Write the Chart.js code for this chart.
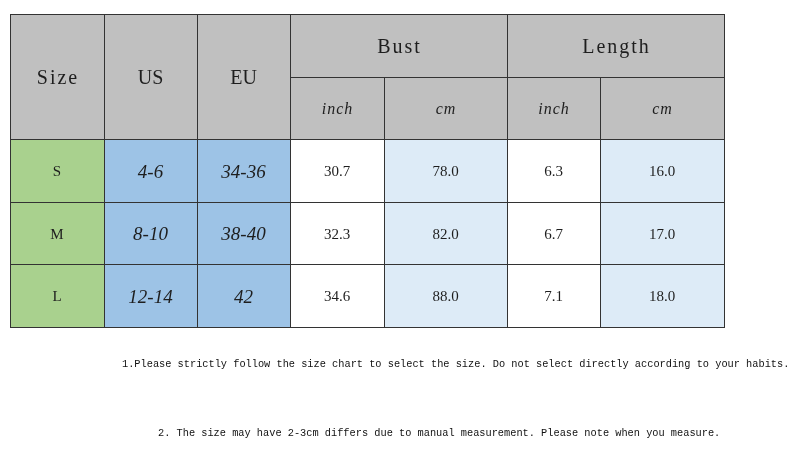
<!DOCTYPE html>
<html>
<head>
<meta charset="utf-8">
<script src="https://cdn.jsdelivr.net/npm/chart.js@4"></script>
<style>
  body { margin: 0; background: #fff; }
  canvas { display: block; }
</style>
</head>
<body>
<canvas id="sizeChart" width="800" height="470"></canvas>
<script>
// table content
const headers = ['Size', 'US', 'EU'];
const groupHeaders = ['Bust', 'Length'];
const unitLabels = ['inch', 'cm', 'inch', 'cm'];
const sizes = ['S', 'M', 'L'];
const usSizes = ['4-6', '8-10', '12-14'];
const euSizes = ['34-36', '38-40', '42'];
const bustInch = [30.7, 32.3, 34.6];
const bustCm = [78.0, 82.0, 88.0];
const lengthInch = [6.3, 6.7, 7.1];
const lengthCm = [16.0, 17.0, 18.0];
const notes = [
    '1.Please strictly follow the size chart to select the size. Do not select directly according to your habits.',
    '2. The size may have 2-3cm differs due to manual measurement. Please note when you measure.',
];

// layout (x units ~ px)
const colWidths = [94, 93, 93, 94, 123, 93, 124];
const colEdges = [0];
colWidths.forEach(w => colEdges.push(colEdges[colEdges.length - 1] + w));

const GRAY = '#c0c0c0', GREEN = '#a9d18e', BLUE = '#9dc3e6', LIGHT = '#ddebf7', WHITE = '#ffffff';
const HEAD_FONT = '20px "Liberation Serif"';
const UNIT_FONT = 'italic 16px "Liberation Serif"';
const BODY_FONT = '15px "Liberation Serif"';
const US_FONT = 'italic 19px "Liberation Serif"';

function buildCells() {
    let cells = [];
    headers.forEach((h, i) => {
        cells.push({ c0: i, c1: i + 1, r0: 0, r1: 2, text: h, fill: GRAY, font: HEAD_FONT, spacing: i == 0 ? 2 : 0 });
    });
    groupHeaders.forEach((h, i) => {
        cells.push({ c0: 3 + i * 2, c1: 5 + i * 2, r0: 0, r1: 1, text: h, fill: GRAY, font: HEAD_FONT, spacing: 2 });
    });
    unitLabels.forEach((u, i) => {
        cells.push({ c0: 3 + i, c1: 4 + i, r0: 1, r1: 2, text: u, fill: GRAY, font: UNIT_FONT, spacing: 1 });
    });
    sizes.forEach((s, i) => {
        let r = 2 + i;
        cells.push({ c0: 0, c1: 1, r0: r, r1: r + 1, text: s, fill: GREEN, font: BODY_FONT });
        cells.push({ c0: 1, c1: 2, r0: r, r1: r + 1, text: usSizes[i], fill: BLUE, font: US_FONT });
        cells.push({ c0: 2, c1: 3, r0: r, r1: r + 1, text: euSizes[i], fill: BLUE, font: US_FONT });
        cells.push({ c0: 3, c1: 4, r0: r, r1: r + 1, text: bustInch[i].toFixed(1), fill: WHITE, font: BODY_FONT });
        cells.push({ c0: 4, c1: 5, r0: r, r1: r + 1, text: bustCm[i].toFixed(1), fill: LIGHT, font: BODY_FONT });
        cells.push({ c0: 5, c1: 6, r0: r, r1: r + 1, text: lengthInch[i].toFixed(1), fill: WHITE, font: BODY_FONT });
        cells.push({ c0: 6, c1: 7, r0: r, r1: r + 1, text: lengthCm[i].toFixed(1), fill: LIGHT, font: BODY_FONT });
    });
    return cells;
}

const tablePlugin = {
    id: 'sizeTable',
    beforeDatasetsDraw(chart) {
        const ctx = chart.ctx;
        const xs = chart.scales.x, ys = chart.scales.y;
        const px = c => Math.round(xs.getPixelForValue(colEdges[c]));
        const py = r => Math.round(ys.getPixelForValue(r));
        const cells = buildCells();
        ctx.save();
        // fills
        cells.forEach(cell => {
            ctx.fillStyle = cell.fill;
            ctx.fillRect(px(cell.c0), py(cell.r0), px(cell.c1) - px(cell.c0), py(cell.r1) - py(cell.r0));
        });
        // borders
        ctx.strokeStyle = '#333333';
        ctx.lineWidth = 1;
        cells.forEach(cell => {
            ctx.strokeRect(px(cell.c0) + 0.5, py(cell.r0) + 0.5, px(cell.c1) - px(cell.c0), py(cell.r1) - py(cell.r0));
        });
        // texts
        ctx.textAlign = 'center';
        ctx.textBaseline = 'middle';
        cells.forEach(cell => {
            ctx.font = cell.font;
            ctx.letterSpacing = (cell.spacing || 0) + 'px';
            ctx.fillStyle = '#1e1e1e';
            let cx = (px(cell.c0) + px(cell.c1)) / 2 + (cell.spacing || 0) / 2;
            let cy = (py(cell.r0) + py(cell.r1)) / 2 + 2;
            ctx.fillText(cell.text, cx, cy);
        });
        ctx.letterSpacing = '0px';
        // notes under the table
        ctx.textAlign = 'left';
        ctx.font = '10.3px "Liberation Mono"';
        ctx.fillStyle = '#111111';
        ctx.fillText(notes[0], xs.getPixelForValue(112), ys.getPixelForValue(5) + 37);
        ctx.fillText(notes[1], xs.getPixelForValue(148), ys.getPixelForValue(5) + 106);
        ctx.restore();
    }
};

new Chart(document.getElementById('sizeChart'), {
    type: 'scatter',
    data: { datasets: [{ data: [] }] },
    options: {
        responsive: false,
        animation: false,
        devicePixelRatio: 1,
        layout: { padding: { left: 10, top: 14, right: 76, bottom: 143 } },
        scales: {
            x: { type: 'linear', display: false, min: 0, max: colEdges[colEdges.length - 1] },
            y: { type: 'linear', display: false, min: 0, max: 5, reverse: true },
        },
        plugins: { legend: { display: false }, tooltip: { enabled: false } },
    },
    plugins: [tablePlugin],
});
</script>
</body>
</html>
